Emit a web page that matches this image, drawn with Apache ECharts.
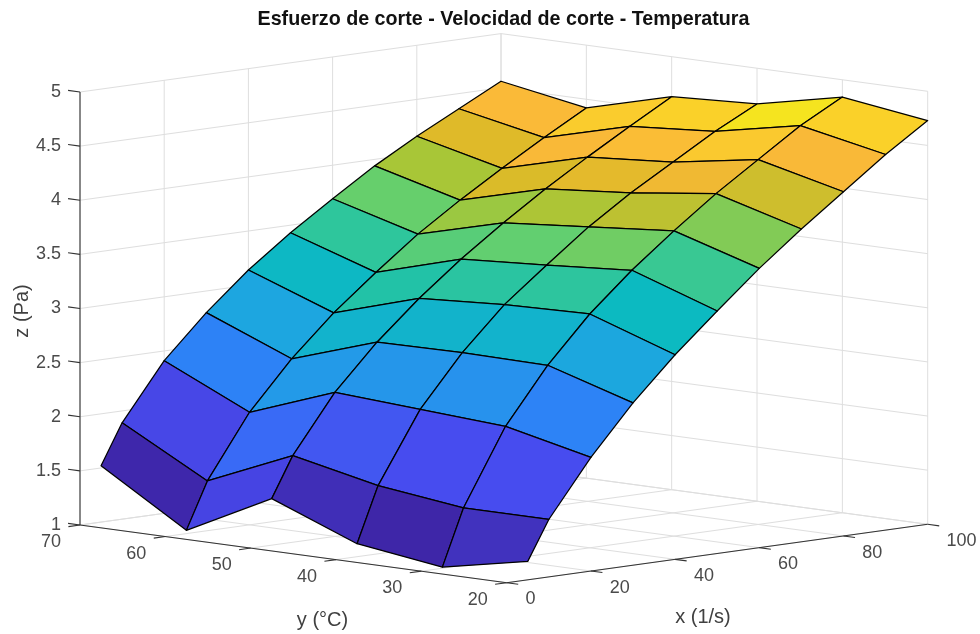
<!DOCTYPE html>
<html>
<head>
<meta charset="utf-8">
<style>html,body{margin:0;padding:0;background:#fff}#c{width:980px;height:634px;filter:blur(0.35px)}</style>
<script src="https://cdn.jsdelivr.net/npm/echarts@6/dist/echarts.min.js"></script>
</head>
<body>
<div id="c"></div>
<script>
// ---- data ----
const xValues = [5, 10, 20, 30, 40, 50, 60, 70, 80, 90, 100];
const yValues = [20, 30, 40, 50, 60, 70];
const zAt20 = [1.17, 1.53, 2.05, 2.50, 2.89, 3.24, 3.58, 3.89, 4.18, 4.47, 4.73];
const zAt30 = [1.01, 1.53, 2.23, 2.74, 3.16, 3.51, 3.82, 4.11, 4.37, 4.63, 4.84];
const zAt40 = [1.12, 1.63, 2.28, 2.75, 3.14, 3.45, 3.75, 4.01, 4.24, 4.47, 4.67];
const zAt50 = [1.43, 1.80, 2.33, 2.74, 3.09, 3.40, 3.68, 3.94, 4.18, 4.41, 4.63];
const zAt60 = [1.03, 1.46, 2.04, 2.48, 2.85, 3.17, 3.47, 3.73, 3.97, 4.20, 4.42];
const zAt70 = [1.52, 1.89, 2.41, 2.80, 3.14, 3.43, 3.69, 3.94, 4.16, 4.36, 4.56];
const zRows = [zAt20, zAt30, zAt40, zAt50, zAt60, zAt70];

const xTicks = [0, 20, 40, 60, 80, 100];
const yTicks = [20, 30, 40, 50, 60, 70];
const zTicks = [1, 1.5, 2, 2.5, 3, 3.5, 4, 4.5, 5];
const titleText = 'Esfuerzo de corte - Velocidad de corte - Temperatura';
const xName = 'x (1/s)', yName = 'y (°C)', zName = 'z (Pa)';

// parula colormap stops [t, r, g, b]
const parula = [
  [0.00, 62, 38, 168], [0.13, 72, 74, 238], [0.25, 48, 124, 250], [0.38, 30, 165, 225],
  [0.50, 10, 188, 190], [0.58, 55, 200, 148], [0.64, 100, 207, 110], [0.71, 168, 198, 55],
  [0.77, 222, 186, 40], [0.83, 250, 185, 57], [0.90, 250, 208, 42], [0.95, 245, 230, 30],
  [1.00, 249, 251, 21]
];

// ---- orthographic view of the 3D box, onto the hidden plane axes ----
const view = { ox: 506.7, oy: 582.7, xx: 4.21, xy: -0.584, yx: -8.534, yy: -1.154, zy: -108.25 };
const X0 = 0, Y0 = 20, Z0 = 1;
function proj(x, y, z) {
  return [
    view.ox + view.xx * (x - X0) + view.yx * (y - Y0),
    view.oy + view.xy * (x - X0) + view.yy * (y - Y0) + view.zy * (z - Z0)
  ];
}
const allZ = zRows.flat();
const zMin = Math.min.apply(null, allZ), zMax = Math.max.apply(null, allZ);
function colorOf(z) {
  const t = (z - zMin) / (zMax - zMin);
  for (let i = 1; i < parula.length; i++) {
    if (t <= parula[i][0]) {
      const a = parula[i - 1], b = parula[i], k = (t - a[0]) / (b[0] - a[0]);
      return 'rgb(' + [1, 2, 3].map(c => Math.round(a[c] + (b[c] - a[c]) * k)).join(',') + ')';
    }
  }
  return 'rgb(249,251,21)';
}

// ---- quads, back to front ----
const quads = [];
for (let j = yValues.length - 2; j >= 0; j--) {
  for (let i = xValues.length - 2; i >= 0; i--) quads.push([i, j]);
}
function quadItem(params, api) {
  const i = api.value(0), j = api.value(1);
  const pts = [[i, j], [i + 1, j], [i + 1, j + 1], [i, j + 1]].map(p =>
    api.coord(proj(xValues[p[0]], yValues[p[1]], zRows[p[1]][p[0]])));
  return {
    type: 'polygon',
    shape: { points: pts },
    style: { fill: colorOf(zRows[j][i]), stroke: '#000', lineWidth: 1.25, lineJoin: 'round' }
  };
}

// ---- grid and axis segments in data space ----
const xMax = 100, yMax = 70, zTop = 5;
const gridSegs = [];
xTicks.forEach(x => {
  gridSegs.push([x, Y0, Z0, x, yMax, Z0]);
  gridSegs.push([x, yMax, Z0, x, yMax, zTop]);
});
yTicks.forEach(y => {
  gridSegs.push([X0, y, Z0, xMax, y, Z0]);
  gridSegs.push([xMax, y, Z0, xMax, y, zTop]);
});
zTicks.forEach(z => {
  gridSegs.push([X0, yMax, z, xMax, yMax, z]);
  gridSegs.push([xMax, yMax, z, xMax, Y0, z]);
});
const tickX = 1.35, tickY = 2.75, tickZ = 1.4;
const axisSegs = [
  [X0, yMax, Z0, X0, yMax, zTop],
  [X0, yMax, Z0, X0, Y0, Z0],
  [X0, Y0, Z0, xMax, Y0, Z0]
];
xTicks.forEach(x => axisSegs.push([x, Y0, Z0, x, Y0 - tickX, Z0]));
yTicks.forEach(y => axisSegs.push([X0, y, Z0, X0 - tickY, y, Z0]));
zTicks.forEach(z => axisSegs.push([X0, yMax, z, X0, yMax + tickZ, z]));

function segItem(color, width) {
  return function (params, api) {
    const a = api.coord(proj(api.value(0), api.value(1), api.value(2)));
    const b = api.coord(proj(api.value(3), api.value(4), api.value(5)));
    return { type: 'line', shape: { x1: a[0], y1: a[1], x2: b[0], y2: b[1] },
      style: { stroke: color, lineWidth: width } };
  };
}

// ---- labels ----
const FONT = '"Liberation Sans", Arial, sans-serif';
const TICK_SIZE = 18, NAME_SIZE = 20;
const labels = [];
xTicks.forEach(x => labels.push({ p: [x, Y0, Z0], t: String(x), dx: 18.8, dy: 16.6, a: 'left' }));
yTicks.forEach(y => labels.push({ p: [X0, y, Z0], t: String(y), dx: -19, dy: 17, a: 'right' }));
zTicks.forEach(z => labels.push({ p: [X0, yMax, z], t: String(z), dx: -19, dy: 0, a: 'right' }));
function labelItem(params, api) {
  const l = labels[params.dataIndex];
  const c = api.coord(proj(l.p[0], l.p[1], l.p[2]));
  return { type: 'text', x: c[0] + l.dx, y: c[1] + l.dy,
    style: { text: l.t, fill: '#4a4a4a', font: TICK_SIZE + 'px ' + FONT, textAlign: l.a, textVerticalAlign: 'middle' } };
}

const chart = echarts.init(document.getElementById('c'), null, { renderer: 'canvas', width: 980, height: 634 });
const common = { type: 'custom', coordinateSystem: 'cartesian2d', clip: false, silent: true, animation: false };
chart.setOption({
  animation: false,
  backgroundColor: '#fff',
  title: { text: titleText, left: 498.5, top: 5, textAlign: 'center',
    textStyle: { fontFamily: FONT, fontSize: 19.7, fontWeight: 'bold', color: '#111' } },
  grid: { left: 0, right: 0, top: 0, bottom: 0 },
  xAxis: { type: 'value', min: 0, max: 980, show: false },
  yAxis: { type: 'value', min: 0, max: 634, inverse: true, show: false },
  tooltip: { show: false },
  series: [
    Object.assign({}, common, { name: 'grid', z: 1, data: gridSegs, renderItem: segItem('#dedede', 1) }),
    Object.assign({}, common, { name: 'axes', z: 2, data: axisSegs, renderItem: segItem('#333', 1.1) }),
    Object.assign({}, common, { name: 'surface', z: 3, data: quads, renderItem: quadItem }),
    Object.assign({}, common, { name: 'ticks', z: 4, data: labels.map((l, i) => [i]), renderItem: labelItem })
  ],
  graphic: [
    { type: 'text', x: 322.5, y: 620, style: { text: yName, font: NAME_SIZE + 'px ' + FONT, fill: '#404040', textAlign: 'center', textVerticalAlign: 'middle' } },
    { type: 'text', x: 703, y: 617, style: { text: xName, font: NAME_SIZE + 'px ' + FONT, fill: '#404040', textAlign: 'center', textVerticalAlign: 'middle' } },
    { type: 'text', x: 22, y: 311, rotation: Math.PI / 2, style: { text: zName, font: NAME_SIZE + 'px ' + FONT, fill: '#404040', textAlign: 'center', textVerticalAlign: 'middle' } }
  ]
});
</script>
</body>
</html>
